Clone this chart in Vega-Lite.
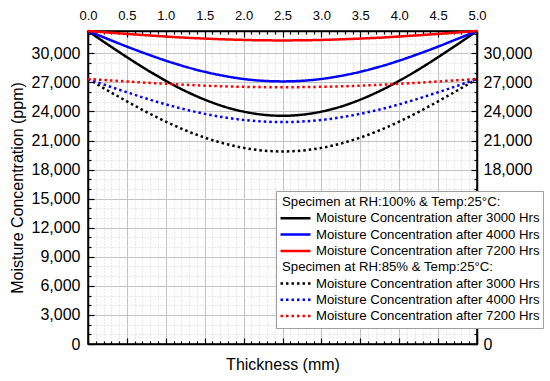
{
  "$schema": "https://vega.github.io/schema/vega-lite/v6.json",
  "width": 389,
  "height": 313,
  "autosize": {"type": "none"},
  "padding": {"left": 88, "top": 31, "right": 73, "bottom": 37},
  "background": "white",
  "config": {
    "font": "Liberation Sans",
    "view": {"stroke": "black", "strokeWidth": 1.5},
    "axis": {
      "domainColor": "black", "domainWidth": 1.5, "tickColor": "black", "tickWidth": 1.2,
      "labelColor": "black", "titleColor": "black", "labelFont": "Liberation Sans", "titleFont": "Liberation Sans",
      "labelOverlap": false, "labelFlush": false, "labelBound": false
    }
  },
  "data": {"values": [
    {"s":"100|3000","x":0,"c":32300},{"s":"100|3000","x":0.25,"c":30930},{"s":"100|3000","x":0.5,"c":29600},{"s":"100|3000","x":0.75,"c":28330},{"s":"100|3000","x":1,"c":27160},{"s":"100|3000","x":1.25,"c":26110},{"s":"100|3000","x":1.5,"c":25220},{"s":"100|3000","x":1.75,"c":24500},{"s":"100|3000","x":2,"c":23980},{"s":"100|3000","x":2.25,"c":23660},{"s":"100|3000","x":2.5,"c":23550},{"s":"100|3000","x":2.75,"c":23660},{"s":"100|3000","x":3,"c":23980},{"s":"100|3000","x":3.25,"c":24500},{"s":"100|3000","x":3.5,"c":25220},{"s":"100|3000","x":3.75,"c":26110},{"s":"100|3000","x":4,"c":27160},{"s":"100|3000","x":4.25,"c":28330},{"s":"100|3000","x":4.5,"c":29600},{"s":"100|3000","x":4.75,"c":30930},{"s":"100|3000","x":5,"c":32300},
    {"s":"100|4000","x":0,"c":32300},{"s":"100|4000","x":0.25,"c":31490},{"s":"100|4000","x":0.5,"c":30690},{"s":"100|4000","x":0.75,"c":29940},{"s":"100|4000","x":1,"c":29240},{"s":"100|4000","x":1.25,"c":28620},{"s":"100|4000","x":1.5,"c":28090},{"s":"100|4000","x":1.75,"c":27670},{"s":"100|4000","x":2,"c":27350},{"s":"100|4000","x":2.25,"c":27160},{"s":"100|4000","x":2.5,"c":27100},{"s":"100|4000","x":2.75,"c":27160},{"s":"100|4000","x":3,"c":27350},{"s":"100|4000","x":3.25,"c":27670},{"s":"100|4000","x":3.5,"c":28090},{"s":"100|4000","x":3.75,"c":28620},{"s":"100|4000","x":4,"c":29240},{"s":"100|4000","x":4.25,"c":29940},{"s":"100|4000","x":4.5,"c":30690},{"s":"100|4000","x":4.75,"c":31490},{"s":"100|4000","x":5,"c":32300},
    {"s":"100|7200","x":0,"c":32300},{"s":"100|7200","x":0.25,"c":32150},{"s":"100|7200","x":0.5,"c":32000},{"s":"100|7200","x":0.75,"c":31860},{"s":"100|7200","x":1,"c":31730},{"s":"100|7200","x":1.25,"c":31610},{"s":"100|7200","x":1.5,"c":31520},{"s":"100|7200","x":1.75,"c":31440},{"s":"100|7200","x":2,"c":31380},{"s":"100|7200","x":2.25,"c":31340},{"s":"100|7200","x":2.5,"c":31330},{"s":"100|7200","x":2.75,"c":31340},{"s":"100|7200","x":3,"c":31380},{"s":"100|7200","x":3.25,"c":31440},{"s":"100|7200","x":3.5,"c":31520},{"s":"100|7200","x":3.75,"c":31610},{"s":"100|7200","x":4,"c":31730},{"s":"100|7200","x":4.25,"c":31860},{"s":"100|7200","x":4.5,"c":32000},{"s":"100|7200","x":4.75,"c":32150},{"s":"100|7200","x":5,"c":32300},
    {"s":"85|3000","x":0,"c":27350},{"s":"85|3000","x":0.25,"c":26180},{"s":"85|3000","x":0.5,"c":25040},{"s":"85|3000","x":0.75,"c":23950},{"s":"85|3000","x":1,"c":22950},{"s":"85|3000","x":1.25,"c":22060},{"s":"85|3000","x":1.5,"c":21300},{"s":"85|3000","x":1.75,"c":20690},{"s":"85|3000","x":2,"c":20240},{"s":"85|3000","x":2.25,"c":19960},{"s":"85|3000","x":2.5,"c":19870},{"s":"85|3000","x":2.75,"c":19960},{"s":"85|3000","x":3,"c":20240},{"s":"85|3000","x":3.25,"c":20690},{"s":"85|3000","x":3.5,"c":21300},{"s":"85|3000","x":3.75,"c":22060},{"s":"85|3000","x":4,"c":22950},{"s":"85|3000","x":4.25,"c":23950},{"s":"85|3000","x":4.5,"c":25040},{"s":"85|3000","x":4.75,"c":26180},{"s":"85|3000","x":5,"c":27350},
    {"s":"85|4000","x":0,"c":27350},{"s":"85|4000","x":0.25,"c":26650},{"s":"85|4000","x":0.5,"c":25980},{"s":"85|4000","x":0.75,"c":25330},{"s":"85|4000","x":1,"c":24730},{"s":"85|4000","x":1.25,"c":24200},{"s":"85|4000","x":1.5,"c":23750},{"s":"85|4000","x":1.75,"c":23390},{"s":"85|4000","x":2,"c":23120},{"s":"85|4000","x":2.25,"c":22960},{"s":"85|4000","x":2.5,"c":22900},{"s":"85|4000","x":2.75,"c":22960},{"s":"85|4000","x":3,"c":23120},{"s":"85|4000","x":3.25,"c":23390},{"s":"85|4000","x":3.5,"c":23750},{"s":"85|4000","x":3.75,"c":24200},{"s":"85|4000","x":4,"c":24730},{"s":"85|4000","x":4.25,"c":25330},{"s":"85|4000","x":4.5,"c":25980},{"s":"85|4000","x":4.75,"c":26650},{"s":"85|4000","x":5,"c":27350},
    {"s":"85|7200","x":0,"c":27350},{"s":"85|7200","x":0.25,"c":27220},{"s":"85|7200","x":0.5,"c":27090},{"s":"85|7200","x":0.75,"c":26960},{"s":"85|7200","x":1,"c":26850},{"s":"85|7200","x":1.25,"c":26750},{"s":"85|7200","x":1.5,"c":26660},{"s":"85|7200","x":1.75,"c":26590},{"s":"85|7200","x":2,"c":26540},{"s":"85|7200","x":2.25,"c":26510},{"s":"85|7200","x":2.5,"c":26500},{"s":"85|7200","x":2.75,"c":26510},{"s":"85|7200","x":3,"c":26540},{"s":"85|7200","x":3.25,"c":26590},{"s":"85|7200","x":3.5,"c":26660},{"s":"85|7200","x":3.75,"c":26750},{"s":"85|7200","x":4,"c":26850},{"s":"85|7200","x":4.25,"c":26960},{"s":"85|7200","x":4.5,"c":27090},{"s":"85|7200","x":4.75,"c":27220},{"s":"85|7200","x":5,"c":27350}
  ]},
  "resolve": {"axis": {"x": "independent", "y": "independent"}},
  "layer": [
    {
      "mark": {"type": "point", "opacity": 0},
      "encoding": {
        "x": {"field": "x", "type": "quantitative", "scale": {"domain": [0, 5], "nice": false, "zero": false},
          "axis": {"orient": "bottom", "values": [0.1,0.2,0.3,0.4,0.6,0.7,0.8,0.9,1.1,1.2,1.3,1.4,1.6,1.7,1.8,1.9,2.1,2.2,2.3,2.4,2.6,2.7,2.8,2.9,3.1,3.2,3.3,3.4,3.6,3.7,3.8,3.9,4.1,4.2,4.3,4.4,4.6,4.7,4.8,4.9],
            "labels": false, "domain": false, "title": null, "tickSize": -3, "grid": true, "gridColor": "#d4d4d4", "gridDash": [1, 2], "gridWidth": 1}},
        "y": {"field": "c", "type": "quantitative", "scale": {"domain": [0, 32300], "nice": false, "zero": false},
          "axis": {"orient": "left", "values": [1000,2000,4000,5000,7000,8000,10000,11000,13000,14000,16000,17000,19000,20000,22000,23000,25000,26000,28000,29000,31000,32000],
            "labels": false, "domain": false, "title": null, "tickSize": -3, "grid": true, "gridColor": "#d4d4d4", "gridDash": [1, 2], "gridWidth": 1}}
      }
    },
    {
      "mark": {"type": "point", "opacity": 0},
      "encoding": {
        "x": {"field": "x", "type": "quantitative", "scale": {"domain": [0, 5], "nice": false, "zero": false},
          "axis": {"orient": "top", "values": [0.1,0.2,0.3,0.4,0.6,0.7,0.8,0.9,1.1,1.2,1.3,1.4,1.6,1.7,1.8,1.9,2.1,2.2,2.3,2.4,2.6,2.7,2.8,2.9,3.1,3.2,3.3,3.4,3.6,3.7,3.8,3.9,4.1,4.2,4.3,4.4,4.6,4.7,4.8,4.9],
            "labels": false, "domain": false, "title": null, "tickSize": -3, "grid": false}},
        "y": {"field": "c", "type": "quantitative", "scale": {"domain": [0, 32300], "nice": false, "zero": false},
          "axis": {"orient": "right", "values": [1000,2000,4000,5000,7000,8000,10000,11000,13000,14000,16000,17000,19000,20000,22000,23000,25000,26000,28000,29000,31000,32000],
            "labels": false, "domain": false, "title": null, "tickSize": -3, "grid": false}}
      }
    },
    {
      "mark": {"type": "point", "opacity": 0},
      "encoding": {
        "x": {"field": "x", "type": "quantitative", "scale": {"domain": [0, 5], "nice": false, "zero": false},
          "axis": {"orient": "top", "values": [0,0.5,1,1.5,2,2.5,3,3.5,4,4.5,5], "format": ".1f",
            "labelFontSize": 13, "labelPadding": 15, "title": null, "tickSize": -6, "grid": false}},
        "y": {"field": "c", "type": "quantitative", "scale": {"domain": [0, 32300], "nice": false, "zero": false},
          "axis": {"orient": "right", "values": [0,3000,6000,9000,12000,15000,18000,21000,24000,27000,30000], "format": ",d",
            "labelFontSize": 16, "labelPadding": 12, "title": null, "tickSize": -6, "grid": false}}
      }
    },
    {
      "mark": {"type": "line", "strokeWidth": 2.5, "interpolate": "monotone", "strokeCap": "butt"},
      "encoding": {
        "x": {"field": "x", "type": "quantitative", "scale": {"domain": [0, 5], "nice": false, "zero": false},
          "axis": {"orient": "bottom", "values": [0,0.5,1,1.5,2,2.5,3,3.5,4,4.5,5], "labels": false,
            "title": "Thickness (mm)", "titleFontSize": 16, "titleFontWeight": "normal", "titlePadding": 12,
            "tickSize": -6, "grid": true, "gridColor": "#c4c4c4", "gridWidth": 1}},
        "y": {"field": "c", "type": "quantitative", "scale": {"domain": [0, 32300], "nice": false, "zero": false},
          "axis": {"orient": "left", "values": [0,3000,6000,9000,12000,15000,18000,21000,24000,27000,30000], "format": ",d",
            "labelFontSize": 16, "labelPadding": 14,
            "title": "Moisture Concentration (ppm)", "titleFontSize": 16, "titleFontWeight": "normal", "titlePadding": 6,
            "tickSize": -6, "grid": true, "gridColor": "#c4c4c4", "gridWidth": 1}},
        "color": {"field": "s", "type": "nominal",
          "scale": {"domain": ["Specimen at RH:100% & Temp:25°C:", "100|3000", "100|4000", "100|7200", "Specimen at RH:85% & Temp:25°C:", "85|3000", "85|4000", "85|7200"],
            "range": ["transparent", "#000000", "#0000FF", "#FF0000", "transparent", "#000000", "#0000FF", "#FF0000"]},
          "legend": {"orient": "none", "legendX": 188, "legendY": 160, "title": null, "fillColor": "white", "strokeColor": "#a0a0a0",
            "padding": 3, "labelFont": "Liberation Sans", "labelFontSize": 13.2, "labelColor": "black", "labelLimit": 400,
            "symbolType": "stroke", "symbolSize": 900, "symbolStrokeWidth": 2.5, "clipHeight": 16, "rowPadding": 0.3, "labelOffset": 4,
            "labelExpr": "indexof(datum.label,'|') > 0 ? 'Moisture Concentration after ' + split(datum.label,'|')[1] + ' Hrs' : datum.label",
            "encode": {"labels": {"update": {"dx": {"signal": "indexof(datum.value,'|') > 0 ? 0 : -34"}}}}}},
        "strokeDash": {"field": "s", "type": "nominal",
          "scale": {"domain": ["Specimen at RH:100% & Temp:25°C:", "100|3000", "100|4000", "100|7200", "Specimen at RH:85% & Temp:25°C:", "85|3000", "85|4000", "85|7200"],
            "range": [[1, 0], [1, 0], [1, 0], [1, 0], [1, 0], [2.5, 3], [2.5, 3], [2.5, 3]]},
          "legend": {"orient": "none", "legendX": 188, "legendY": 160, "title": null, "fillColor": "white", "strokeColor": "#a0a0a0",
            "padding": 3, "labelFont": "Liberation Sans", "labelFontSize": 13.2, "labelColor": "black", "labelLimit": 400,
            "symbolType": "stroke", "symbolSize": 900, "symbolStrokeWidth": 2.5, "clipHeight": 16, "rowPadding": 0.3, "labelOffset": 4,
            "labelExpr": "indexof(datum.label,'|') > 0 ? 'Moisture Concentration after ' + split(datum.label,'|')[1] + ' Hrs' : datum.label",
            "encode": {"labels": {"update": {"dx": {"signal": "indexof(datum.value,'|') > 0 ? 0 : -34"}}}}}}
      }
    }
  ]
}
